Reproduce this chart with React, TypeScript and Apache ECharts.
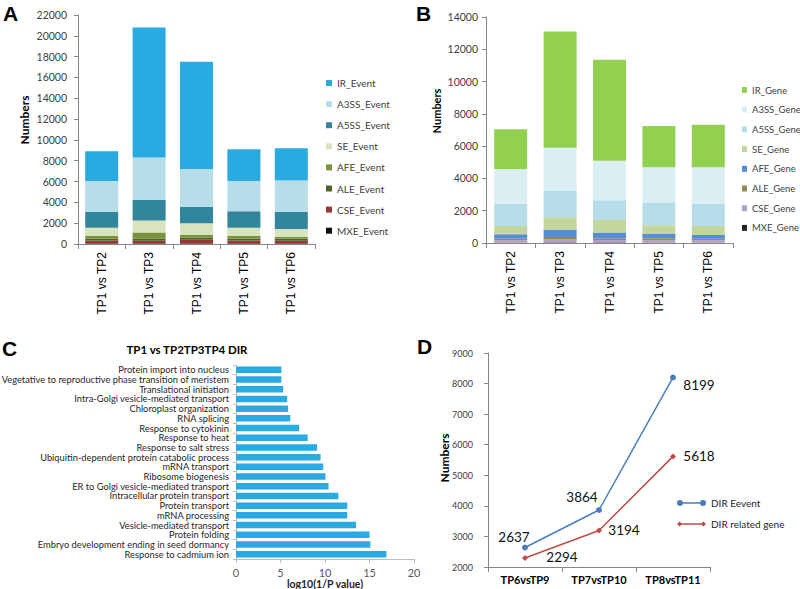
import React, { useEffect, useRef } from 'react';
import * as echarts from 'echarts';

// ---------- Panel A: splicing events ----------
const compareCategories = ['TP1 vs TP2', 'TP1 vs TP3', 'TP1 vs TP4', 'TP1 vs TP5', 'TP1 vs TP6'];
const mxeEvent = [40, 50, 50, 40, 40];
const cseEvent = [300, 270, 360, 290, 280];
const aleEvent = [200, 200, 200, 200, 190];
const afeEvent = [250, 580, 270, 270, 160];
const seEvent = [760, 1150, 1120, 750, 780];
const a5ssEvent = [1550, 2000, 1550, 1600, 1650];
const a3ssEvent = [2950, 4050, 3650, 2900, 3000];
const irEvent = [2850, 12500, 10300, 3050, 3100];

// ---------- Panel B: genes ----------
const mxeGene = [20, 30, 30, 20, 20];
const cseGene = [150, 180, 150, 150, 150];
const aleGene = [100, 160, 100, 120, 100];
const afeGene = [270, 430, 370, 270, 230];
const seGene = [520, 800, 770, 540, 550];
const a5ssGene = [1360, 1620, 1230, 1380, 1400];
const a3ssGene = [2160, 2680, 2450, 2220, 2250];
const irGene = [2470, 7200, 6250, 2550, 2630];

// ---------- Panel C: GO terms ----------
const goTerms = [
  'Protein import into nucleus',
  'Vegetative to reproductive phase transition of meristem',
  'Translational initiation',
  'Intra-Golgi vesicle-mediated transport',
  'Chloroplast organization',
  'RNA splicing',
  'Response to cytokinin',
  'Response to heat',
  'Response to salt stress',
  'Ubiquitin-dependent protein catabolic process',
  'mRNA transport',
  'Ribosome biogenesis',
  'ER to Golgi vesicle-mediated transport',
  'Intracellular protein transport',
  'Protein transport',
  'mRNA processing',
  'Vesicle-mediated transport',
  'Protein folding',
  'Embryo development ending in seed dormancy',
  'Response to cadmium ion',
];
const goValues = [5.1, 5.1, 5.3, 5.75, 5.85, 6.1, 7.1, 8.05, 9.1, 9.5, 9.8, 10.05, 10.4, 11.5, 12.5, 12.5, 13.5, 15.0, 15.1, 16.9];

// ---------- Panel D: DIR ----------
const dirCategories = ['TP6vsTP9', 'TP7vsTP10', 'TP8vsTP11'];
const dirEvent = [2637, 3864, 8199];
const dirGene = [2294, 3194, 5618];

// label offsets (style only)
const eventLabelOffsets = [[-11, -11], [-17, -13], [26, 8]];
const geneLabelOffsets = [[37, -1], [25, 0], [26, 0]];

const AXIS_GRAY = '#868686';
const TXT = '#404040';
const plain = (v: number) => String(v);

const eventSeriesDefs = [
  { name: 'MXE_Event', data: mxeEvent, color: '#0D0D0D' },
  { name: 'CSE_Event', data: cseEvent, color: '#953735' },
  { name: 'ALE_Event', data: aleEvent, color: '#4F6228' },
  { name: 'AFE_Event', data: afeEvent, color: '#77933C' },
  { name: 'SE_Event', data: seEvent, color: '#D7E4BD' },
  { name: 'A5SS_Event', data: a5ssEvent, color: '#31859C' },
  { name: 'A3SS_Event', data: a3ssEvent, color: '#B7DDE8' },
  { name: 'IR_Event', data: irEvent, color: '#29ABE2' },
];
const geneSeriesDefs = [
  { name: 'MXE_Gene', data: mxeGene, color: '#262626' },
  { name: 'CSE_Gene', data: cseGene, color: '#B3A2C7' },
  { name: 'ALE_Gene', data: aleGene, color: '#948A54' },
  { name: 'AFE_Gene', data: afeGene, color: '#558ED5' },
  { name: 'SE_Gene', data: seGene, color: '#C3D69B' },
  { name: 'A5SS_Gene', data: a5ssGene, color: '#B7DEE8' },
  { name: 'A3SS_Gene', data: a3ssGene, color: '#DBEEF4' },
  { name: 'IR_Gene', data: irGene, color: '#92D050' },
];

function catXAxis(gridIndex: number) {
  return {
    type: 'category',
    gridIndex,
    data: compareCategories,
    axisLine: { show: true, lineStyle: { color: AXIS_GRAY } },
    axisTick: { show: true, length: 5, lineStyle: { color: AXIS_GRAY } },
    axisLabel: { rotate: 90, fontFamily: 'Liberation Sans', fontSize: 12, color: '#000', margin: 8, interval: 0 },
  };
}

function valYAxis(gridIndex: number, max: number, margin: number, fontSize: number) {
  return {
    type: 'value',
    gridIndex,
    min: 0,
    max,
    interval: 2000,
    axisLine: { show: true, lineStyle: { color: AXIS_GRAY } },
    axisTick: { show: true, length: 4, lineStyle: { color: AXIS_GRAY } },
    splitLine: { show: false },
    axisLabel: { fontFamily: 'Lato', fontSize, color: TXT, margin, formatter: plain },
  };
}

function gtext(text: string, x: number, y: number, font: string, rotation = 0, fill = '#000', align = 'left', vAlign = 'top') {
  return {
    type: 'text',
    x,
    y,
    rotation,
    style: {
      text,
      font,
      fill,
      align,
      verticalAlign: vAlign,
      textAlign: align,
      textVerticalAlign: vAlign,
    },
  };
}

const option: any = {
  animation: false,
  backgroundColor: '#fff',
  grid: [
    { left: 78, top: 15, width: 237, height: 229, outerBoundsMode: 'none', containLabel: false },
    { left: 486, top: 17, width: 247, height: 226, outerBoundsMode: 'none', containLabel: false },
    { left: 236, top: 365, width: 178, height: 194, outerBoundsMode: 'none', containLabel: false },
    { left: 488, top: 353, width: 222, height: 214, outerBoundsMode: 'none', containLabel: false },
  ],
  xAxis: [
    catXAxis(0),
    catXAxis(1),
    {
      type: 'value',
      gridIndex: 2,
      min: 0,
      max: 20,
      interval: 5,
      axisLine: { show: true, lineStyle: { color: '#BFBFBF' } },
      axisTick: { show: true, length: 4, lineStyle: { color: '#BFBFBF' } },
      splitLine: { show: false },
      axisLabel: { fontFamily: 'Lato', fontSize: 11, color: '#595959', margin: 8 },
      name: 'log10(1/P value)',
      nameLocation: 'middle',
      nameGap: 15,
      nameTextStyle: { fontFamily: 'Lato', fontSize: 10.5, fontWeight: 'bold', color: '#262626' },
    },
    {
      type: 'category',
      gridIndex: 3,
      data: dirCategories,
      boundaryGap: true,
      axisLine: { show: true, lineStyle: { color: AXIS_GRAY } },
      axisTick: { show: true, length: 5, lineStyle: { color: AXIS_GRAY } },
      axisLabel: { fontFamily: 'Lato', fontSize: 11, fontWeight: 'bold', color: '#000', margin: 7, interval: 0 },
    },
  ],
  yAxis: [
    valYAxis(0, 22000, 11, 10.5),
    valYAxis(1, 14000, 8, 10.5),
    {
      type: 'category',
      gridIndex: 2,
      data: goTerms,
      inverse: true,
      axisLine: { show: true, lineStyle: { color: '#BFBFBF' } },
      axisTick: { show: true, length: 3, lineStyle: { color: '#BFBFBF' } },
      axisLabel: { fontFamily: 'Lato', fontSize: 9.3, lineHeight: 9.6, color: '#262626', margin: 7, interval: 0 },
    },
    {
      type: 'value',
      gridIndex: 3,
      min: 2000,
      max: 9000,
      interval: 1000,
      axisLine: { show: true, lineStyle: { color: AXIS_GRAY } },
      axisTick: { show: true, length: 4, lineStyle: { color: AXIS_GRAY } },
      splitLine: { show: false },
      axisLabel: { fontFamily: 'Lato', fontSize: 9, color: TXT, margin: 15, formatter: plain },
    },
  ],
  legend: [
    {
      data: eventSeriesDefs.map((d) => d.name).reverse(),
      orient: 'vertical',
      left: 326,
      top: 77,
      padding: 0,
      icon: 'rect',
      itemWidth: 6,
      itemHeight: 6,
      itemGap: 9.1,
      textStyle: { fontFamily: 'Lato', fontSize: 10, color: TXT, lineHeight: 12 },
    },
    {
      data: geneSeriesDefs.map((d) => d.name).reverse(),
      orient: 'vertical',
      left: 742,
      top: 84,
      padding: 0,
      icon: 'rect',
      itemWidth: 5,
      itemHeight: 6,
      itemGap: 7.7,
      textStyle: { fontFamily: 'Lato', fontSize: 9.5, color: TXT, lineHeight: 12 },
    },
    {
      data: [
        { name: 'DIR Eevent', icon: 'path://M0,3a3,3 0 1,1 6,0a3,3 0 1,1 -6,0zM3,2.3h23v1.4h-23zM23,3a3,3 0 1,1 6,0a3,3 0 1,1 -6,0z' },
        { name: 'DIR related gene', icon: 'path://M0.5,3L3,0.5L5.5,3L3,5.5ZM3,2.3h23v1.4h-23zM23.5,3L26,0.5L28.5,3L26,5.5Z' },
      ],
      orient: 'vertical',
      left: 677,
      top: 497,
      padding: 0,
      itemWidth: 29,
      itemHeight: 6,
      itemGap: 9,
      textStyle: { fontFamily: 'Lato', fontSize: 10, color: '#262626', lineHeight: 12 },
    },
  ],
  series: [
    ...eventSeriesDefs.map((d) => ({
      name: d.name,
      type: 'bar',
      stack: 'events',
      xAxisIndex: 0,
      yAxisIndex: 0,
      barWidth: 33,
      data: d.data,
      itemStyle: { color: d.color },
    })),
    ...geneSeriesDefs.map((d) => ({
      name: d.name,
      type: 'bar',
      stack: 'genes',
      xAxisIndex: 1,
      yAxisIndex: 1,
      barWidth: 33,
      data: d.data,
      itemStyle: { color: d.color },
    })),
    {
      name: 'GO',
      type: 'bar',
      xAxisIndex: 2,
      yAxisIndex: 2,
      barWidth: 6.5,
      data: goValues,
      itemStyle: { color: '#29ABE2' },
    },
    {
      name: 'DIR Eevent',
      type: 'line',
      xAxisIndex: 3,
      yAxisIndex: 3,
      symbol: 'circle',
      symbolSize: 6,
      lineStyle: { color: '#4A7EBB', width: 1.5 },
      itemStyle: { color: '#4A7EBB' },
      data: dirEvent.map((v, i) => ({
        value: v,
        label: { show: true, position: 'inside', offset: eventLabelOffsets[i] },
      })),
      label: { fontFamily: 'Lato', fontSize: 13.5, color: '#111', align: 'center', verticalAlign: 'middle' },
    },
    {
      name: 'DIR related gene',
      type: 'line',
      xAxisIndex: 3,
      yAxisIndex: 3,
      symbol: 'diamond',
      symbolSize: 6,
      lineStyle: { color: '#BE4B48', width: 1.5 },
      itemStyle: { color: '#BE4B48' },
      data: dirGene.map((v, i) => ({
        value: v,
        label: { show: true, position: 'inside', offset: geneLabelOffsets[i] },
      })),
      label: { fontFamily: 'Lato', fontSize: 13.5, color: '#111', align: 'center', verticalAlign: 'middle' },
    },
  ],
  graphic: [
    gtext('A', 3, 3, 'bold 21px "Liberation Sans"'),
    gtext('B', 416, 3, 'bold 21px "Liberation Sans"'),
    gtext('C', 2, 338, 'bold 21px "Liberation Sans"'),
    gtext('D', 417, 336, 'bold 21px "Liberation Sans"'),
    gtext('Numbers', 24, 120, 'bold 12px Lato', Math.PI / 2, '#000', 'center', 'middle'),
    gtext('Numbers', 436, 111, 'bold 11px Lato', Math.PI / 2, '#000', 'center', 'middle'),
    gtext('Numbers', 444, 458, 'bold 12px Lato', Math.PI / 2, '#000', 'center', 'middle'),
    gtext('TP1 vs TP2TP3TP4 DIR', 187, 349, 'bold 11.5px Lato', 0, '#000', 'center', 'middle'),
  ],
};

export default function App() {
  const ref = useRef<HTMLDivElement>(null);
  useEffect(() => {
    document.body.style.margin = '0';
    const chart = echarts.init(ref.current!, null, { renderer: 'svg' });
    chart.setOption(option);
    return () => chart.dispose();
  }, []);
  return <div ref={ref} style={{ width: 800, height: 589, background: '#fff' }} />;
}
